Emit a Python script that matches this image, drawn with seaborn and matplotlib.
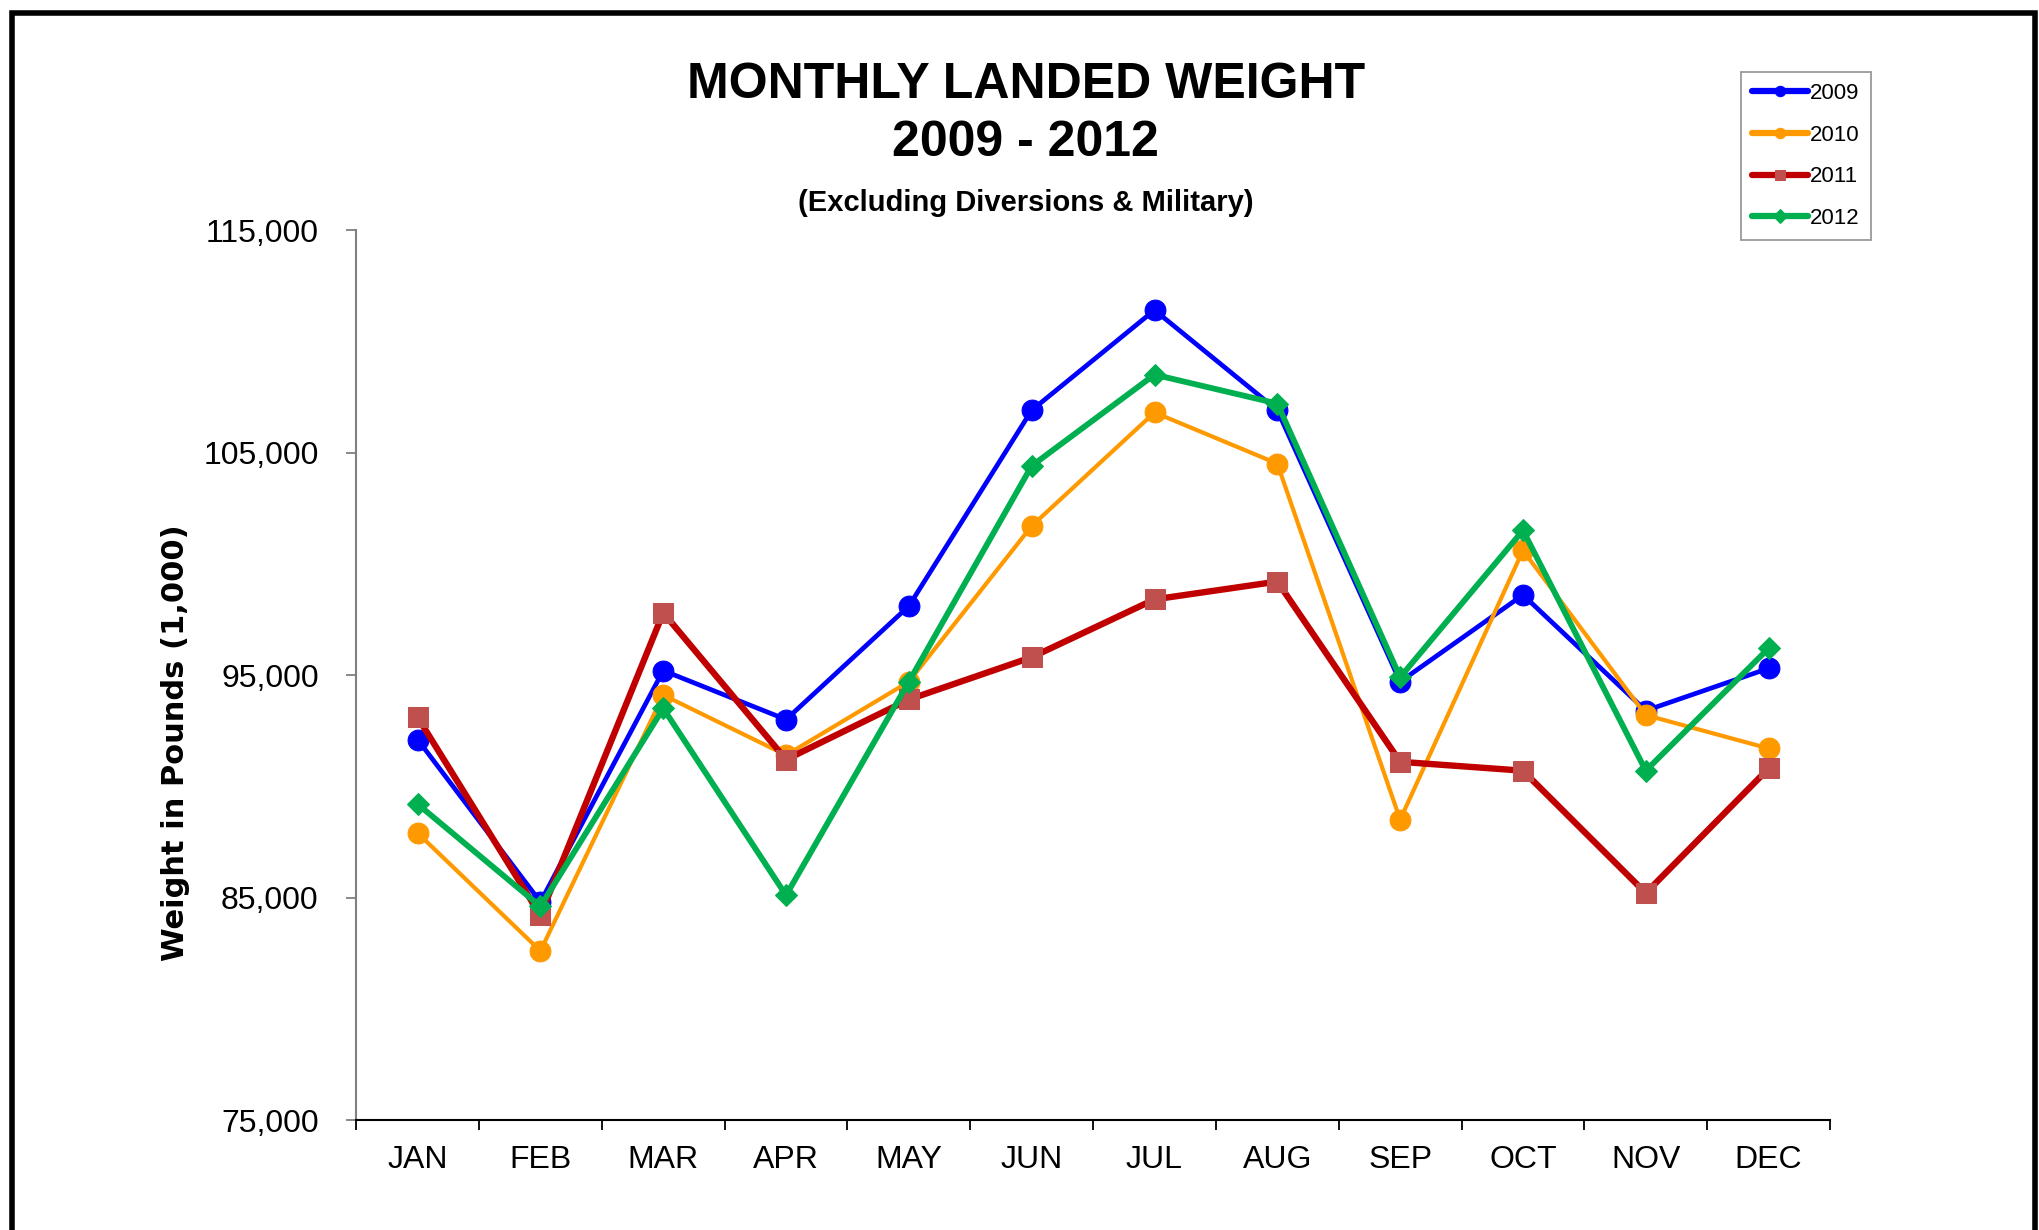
import pandas as pd
import seaborn as sns
from matplotlib import pyplot as plt
from matplotlib.patches import Rectangle
from matplotlib.ticker import FuncFormatter, FixedLocator

# monthly landed weight, pounds (1,000)
months = ["JAN", "FEB", "MAR", "APR", "MAY", "JUN", "JUL", "AUG", "SEP", "OCT", "NOV", "DEC"]
w2009 = [92100, 84800, 95200, 93000, 98100, 106900, 111400, 106900, 94700, 98600, 93400, 95300]
w2010 = [87900, 82600, 94100, 91400, 94700, 101700, 106800, 104500, 88500, 100600, 93200, 91700]
w2011 = [93100, 84200, 97800, 91200, 93900, 95800, 98400, 99200, 91100, 90700, 85200, 90800]
w2012 = [89200, 84600, 93500, 85100, 94700, 104400, 108500, 107200, 94900, 101500, 90700, 96200]
years = ["2009", "2010", "2011", "2012"]
yticks = [75000, 85000, 95000, 105000, 115000]

sns.set_theme(style="white")
plt.rcParams["font.family"] = ["Liberation Sans", "DejaVu Sans"]
plt.rcParams["text.color"] = "black"
plt.rcParams["axes.labelcolor"] = "black"

fig = plt.figure(figsize=(20.39, 12.30), dpi=100)
ax = fig.add_axes([0.1747, 0.0894, 0.7228, 0.7236])

# line styles per year: colour, marker colour, marker, line width, marker size
styles = {
    "2009": ("#0000FF", "#0000FF", "o", 3.4, 15),
    "2010": ("#FF9900", "#FF9900", "o", 3.0, 15),
    "2011": ("#C00000", "#C0504D", "s", 4.6, 15),
    "2012": ("#00B050", "#00B050", "D", 4.2, 11),
}
series = dict(zip(years, [w2009, w2010, w2011, w2012]))

for yr in years:
    df = pd.DataFrame({"Month": months, "Weight": series[yr]})
    col, mcol, mk, lw, ms = styles[yr]
    sns.lineplot(data=df, x="Month", y="Weight", sort=False, ax=ax, label=yr,
                 color=col, lw=lw, marker=mk, ms=ms,
                 markerfacecolor=mcol, markeredgecolor=mcol)

# axes look
ax.set_xlim(-0.5, 11.5)
ax.set_ylim(75000, 115000)
ax.set_xlabel("")
ax.set_ylabel("")
for side in ["top", "right"]:
    ax.spines[side].set_visible(False)
ax.spines["left"].set_color("#808080")
ax.spines["left"].set_linewidth(1.5)
ax.spines["bottom"].set_color("black")
ax.spines["bottom"].set_linewidth(1.5)

ax.xaxis.set_major_locator(FixedLocator([i - 0.5 for i in range(13)]))
ax.xaxis.set_minor_locator(FixedLocator(list(range(12))))
ax.set_xticklabels([], minor=False)
ax.set_xticklabels(months, minor=True)
ax.tick_params(axis="x", which="major", direction="out", length=7, width=1.3,
               color="black", bottom=True)
ax.tick_params(axis="x", which="minor", length=0, pad=18, labelsize=23, labelcolor="black")

ax.set_yticks(yticks)
ax.yaxis.set_major_formatter(FuncFormatter(lambda v, p: f"{int(v):,}"))
ax.tick_params(axis="y", direction="out", length=7, width=1.3, color="#808080",
               left=True, pad=20, labelsize=23, labelcolor="black")

# titles
fig.text(0.503, 0.931, "MONTHLY LANDED WEIGHT", ha="center", va="center",
         fontsize=36, fontweight="bold")
fig.text(0.503, 0.884, "2009 - 2012", ha="center", va="center",
         fontsize=36, fontweight="bold")
fig.text(0.503, 0.835, "(Excluding Diversions & Military)", ha="center", va="center",
         fontsize=21, fontweight="bold")
fig.text(0.086, 0.396, "Weight in Pounds (1,000)", ha="center", va="center",
         rotation=90, fontsize=22, fontweight="bold", family="DejaVu Sans")

# legend
leg = ax.legend(loc="upper left", bbox_to_anchor=(1741 / 2039, 1 - 72 / 1230),
                bbox_transform=fig.transFigure, borderaxespad=0, frameon=True,
                fancybox=False, edgecolor="#808080", fontsize=16,
                handlelength=2.5, handletextpad=0.1, labelspacing=0.93, borderpad=0.5)
leg.get_frame().set_linewidth(1.3)
for h in leg.legend_handles:
    h.set_markersize(7.5)
    h.set_linewidth(4.5)

# outer border of the picture
fig.patches.append(Rectangle((12 / 2039, -0.05), (2035 - 12) / 2039, 1.05 - 13 / 1230,
                             transform=fig.transFigure, fill=False,
                             edgecolor="black", linewidth=4))

fig.savefig("out.png", dpi=100)
